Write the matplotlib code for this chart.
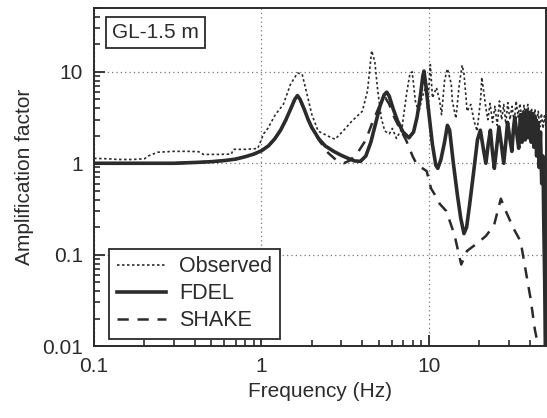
import matplotlib
matplotlib.use("Agg")
import matplotlib.pyplot as plt
from matplotlib.ticker import FixedLocator, LogLocator, NullFormatter

plt.rcParams.update({"font.family": ["Liberation Sans", "DejaVu Sans"], "font.size": 14})

# ---------------------------------------------------------------------------
# Data (frequency in Hz, amplification factor)
# ---------------------------------------------------------------------------
obs_freq = [0.1, 0.12, 0.14, 0.17, 0.2, 0.21, 0.24, 0.3, 0.36, 0.42, 0.45, 0.55, 0.66,
            0.68, 0.8, 0.95, 1.03, 1.09, 1.21, 1.35, 1.49, 1.64, 1.75, 1.87, 2.0, 2.18,
            2.5, 2.75, 3.07, 3.47, 4.0, 4.3, 4.55, 4.75, 4.95, 5.2, 5.45, 5.8, 6.05,
            6.4, 6.9, 7.35, 7.7, 7.95, 8.3, 8.7, 9.1, 9.7, 9.8, 10.2, 10.5, 11.1, 11.6,
            11.9, 12.4, 12.9, 13.6, 13.8, 14.5, 15.2, 15.8, 16.2, 16.6, 16.9, 17.8,
            18.6, 19.4, 20.4, 20.7, 21.9, 22.5, 23.2, 24.0, 24.8, 25.6, 26.4, 27.2,
            28.0, 28.8, 29.6, 30.5, 31.4, 32.3, 33.2, 34.1, 35.0, 36.0, 37.0, 38.0,
            39.0, 40.0, 41.0, 42.0, 43.0, 44.0, 45.0, 46.0, 47.0, 48.0, 49.0, 50.0]
obs_amp = [1.13, 1.12, 1.1, 1.1, 1.12, 1.2, 1.32, 1.35, 1.35, 1.34, 1.25, 1.25, 1.26,
           1.42, 1.42, 1.45, 2.1, 2.4, 3.4, 4.4, 7.3, 9.7, 9.4, 5.7, 3.4, 2.25,
           1.98, 1.83, 2.25, 2.9, 3.7, 6.2, 17.0, 13.0, 6.2, 3.1, 2.25, 2.1, 2.4,
           1.87, 2.4, 5.7, 9.5, 10.0, 4.8, 3.6, 5.2, 7.4, 4.0, 12.0, 5.2, 6.7, 4.8,
           3.4, 8.0, 10.8, 7.4, 4.8, 3.1, 7.4, 11.8, 9.5, 5.7, 3.7, 4.4,
           2.9, 2.25, 5.2, 8.7, 4.0, 3.0, 4.5, 2.8, 4.2, 2.6, 4.8, 3.0,
           4.4, 2.7, 4.6, 3.0, 4.2, 2.8, 4.8, 3.2, 4.5, 2.9, 4.3, 3.0,
           4.4, 2.8, 4.0, 2.7, 3.9, 2.6, 3.7, 2.5, 3.5, 2.4, 3.3, 2.5]

fdel_freq = [0.1, 0.2, 0.3, 0.4, 0.5, 0.6, 0.7, 0.8, 0.9, 1.0, 1.1, 1.2, 1.3, 1.4, 1.5,
             1.58, 1.64, 1.7, 1.8, 1.9, 2.0, 2.2, 2.4, 2.7, 3.0, 3.3, 3.6, 3.9, 4.2,
             4.5, 4.8, 5.1, 5.4, 5.6, 5.8, 6.1, 6.5, 7.0, 7.6, 8.1, 8.5, 8.9, 9.2,
             9.35, 9.6, 10.0, 10.5, 11.0, 11.3, 11.8, 12.4, 12.9, 13.3, 14.0, 14.8,
             15.5, 16.2, 16.8, 17.5, 18.5, 19.5, 20.3, 21.2, 21.9, 22.6, 23.3, 24.0,
             24.6, 25.4, 26.2, 27.1, 28.0, 28.8, 29.5, 30.4, 31.3, 32.0, 32.6, 33.5,
             34.4, 35.2, 36.0, 36.8, 37.6, 38.4, 39.2, 40.0, 40.8, 41.6, 42.4, 43.2,
             44.0, 44.8, 45.6, 46.4, 47.2, 48.0, 48.6, 49.2, 49.6]
fdel_amp = [1.0, 1.0, 1.0, 1.02, 1.04, 1.07, 1.11, 1.18, 1.26, 1.37, 1.55, 1.85, 2.3,
            3.0, 4.0, 5.0, 5.5, 5.0, 3.9, 3.0, 2.45, 1.85, 1.55, 1.35, 1.22, 1.13,
            1.06, 1.05, 1.2, 1.7, 2.7, 4.2, 5.6, 6.0, 5.4, 4.0, 2.9, 2.2, 1.9, 2.2,
            3.2, 5.5, 9.0, 10.2, 7.0, 3.5, 1.6, 0.95, 0.88, 1.1, 1.7, 2.6, 2.3, 1.0,
            0.45, 0.25, 0.17, 0.2, 0.35, 0.8, 1.8, 2.3, 1.4, 1.0, 1.6, 2.3, 1.3,
            0.88, 1.5, 2.5, 1.6, 1.0, 1.7, 2.8, 1.9, 1.35, 2.4, 3.2, 2.1,
            1.46, 3.4, 1.7, 3.6, 1.8, 3.8, 1.9, 3.6, 1.7, 3.5, 1.5, 3.2,
            1.2, 2.8, 0.9, 2.2, 0.6, 1.2, 0.2, 0.05, 0.01]

shake_freq = [0.1, 0.2, 0.3, 0.4, 0.5, 0.6, 0.7, 0.8, 0.9, 1.0, 1.1, 1.2, 1.3, 1.4, 1.5,
              1.58, 1.64, 1.7, 1.8, 1.9, 2.0, 2.2, 2.5, 2.8, 3.1, 3.4, 3.8, 4.2, 4.6,
              5.0, 5.3, 5.5, 5.8, 6.2, 6.7, 7.3, 8.0, 8.4, 9.0, 9.7, 10.3, 10.8, 11.6,
              12.7, 14.2, 15.6, 16.9, 19.1, 21.9, 24.5, 26.9, 28.8, 32.2, 35.3, 37.7,
              40.5, 43.0, 45.0]
shake_amp = [1.0, 1.0, 1.0, 1.02, 1.04, 1.07, 1.11, 1.18, 1.26, 1.37, 1.55, 1.85, 2.3,
             3.0, 4.0, 5.0, 5.5, 5.0, 3.9, 3.0, 2.45, 1.8, 1.3, 1.08, 1.0, 1.08, 1.35,
             1.8, 2.8, 4.0, 5.0, 5.2, 4.4, 3.2, 2.4, 1.8, 1.19, 1.0, 0.9, 0.82, 0.53,
             0.46, 0.36, 0.30, 0.166, 0.078, 0.11, 0.13, 0.16, 0.21, 0.41, 0.30, 0.19,
             0.14, 0.07, 0.033, 0.015, 0.01]

x_ticks = [0.1, 1, 10]
x_tick_labels = ["0.1", "1", "10"]
y_ticks = [0.01, 0.1, 1, 10]
y_tick_labels = ["0.01", "0.1", "1", "10"]

INK = "#2b2b2b"

fig = plt.figure(figsize=(5.47, 4.18), dpi=100)
ax = fig.add_axes([0.172, 0.172, 0.826, 0.809])

ax.plot(obs_freq, obs_amp, color=INK, lw=1.2, linestyle=(0, (1.5, 1.5)), label="Observed")
ax.plot(fdel_freq, fdel_amp, color=INK, lw=2.6, label="FDEL")
ax.plot(shake_freq, shake_amp, color=INK, lw=1.8, linestyle=(0, (4.5, 3.5)), label="SHAKE")

ax.set_xscale("log")
ax.set_yscale("log")
ax.set_xlim(0.1, 50)
ax.set_ylim(0.01, 50)

ax.xaxis.set_major_locator(FixedLocator(x_ticks))
ax.set_xticklabels(x_tick_labels)
ax.yaxis.set_major_locator(FixedLocator(y_ticks))
ax.set_yticklabels(y_tick_labels)
ax.xaxis.set_minor_locator(LogLocator(base=10, subs=[2, 3, 4, 5, 6, 7, 8, 9], numticks=20))
ax.yaxis.set_minor_locator(LogLocator(base=10, subs=[2, 3, 4, 5, 6, 7, 8, 9], numticks=20))
ax.xaxis.set_minor_formatter(NullFormatter())
ax.yaxis.set_minor_formatter(NullFormatter())

ax.grid(True, which="major", linestyle=(0, (1, 2.5)), color="#777777", lw=0.9)
for spine in ax.spines.values():
    spine.set_linewidth(1.4)
    spine.set_color(INK)

ax.tick_params(axis="both", which="major", direction="in", length=8, width=1.3,
               labelsize=15, color=INK, labelcolor=INK, pad=8,
               left=True, bottom=True, top=False, right=False)
ax.tick_params(axis="both", which="minor", direction="in", length=4.5, width=1.2,
               color=INK, left=True, bottom=True, top=False, right=False)

ax.set_xlabel("Frequency (Hz)", fontsize=15, color=INK, labelpad=4)
ax.set_ylabel("Amplification factor", fontsize=15, color=INK, labelpad=6)

ax.text(0.04, 0.928, "GL-1.5 m", transform=ax.transAxes, fontsize=15, color=INK,
        ha="left", va="center",
        bbox=dict(boxstyle="square,pad=0.3", facecolor="white", edgecolor=INK, lw=1.3))

leg = ax.legend(loc="lower left", bbox_to_anchor=(0.033, 0.022), fontsize=15.5,
                handlelength=2.3, handletextpad=0.6, labelspacing=0.28,
                borderpad=0.35, borderaxespad=0, fancybox=False, framealpha=1,
                edgecolor=INK)
leg.get_frame().set_linewidth(1.3)
for txt in leg.get_texts():
    txt.set_color(INK)

fig.savefig("out.png", dpi=100)
